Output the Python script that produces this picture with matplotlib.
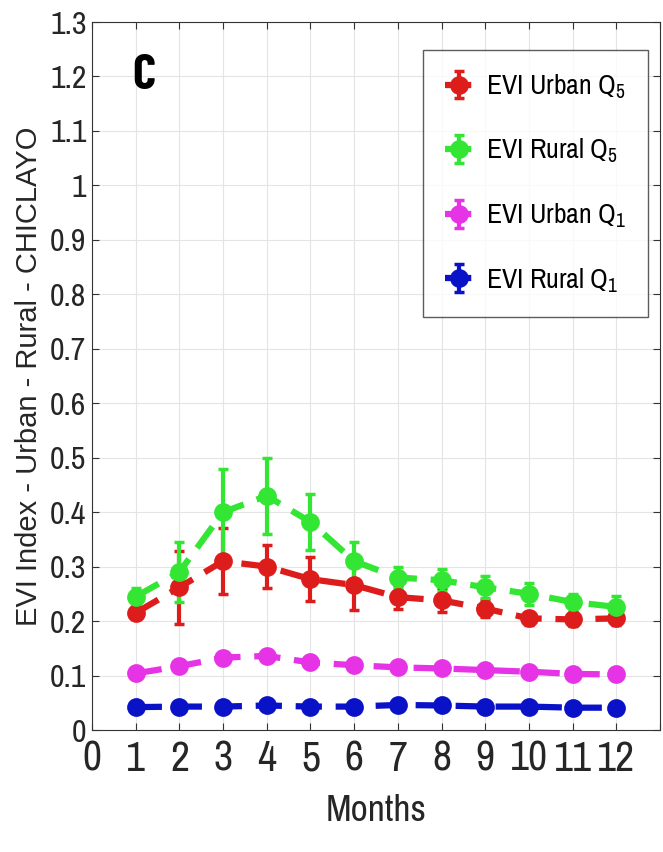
import matplotlib
matplotlib.use("Agg")
import matplotlib.pyplot as plt
import numpy as np

months = np.arange(1, 13)

urban_q5 = [0.215, 0.262, 0.31, 0.30, 0.277, 0.266, 0.244, 0.238, 0.223, 0.205, 0.203, 0.205]
urban_q5_err = [0.012, 0.067, 0.06, 0.04, 0.04, 0.045, 0.022, 0.022, 0.015, 0.012, 0.012, 0.012]
rural_q5 = [0.245, 0.29, 0.40, 0.43, 0.382, 0.31, 0.28, 0.275, 0.262, 0.25, 0.235, 0.226]
rural_q5_err = [0.015, 0.055, 0.08, 0.07, 0.052, 0.035, 0.02, 0.02, 0.02, 0.02, 0.015, 0.02]
urban_q1 = [0.104, 0.117, 0.133, 0.136, 0.124, 0.119, 0.115, 0.113, 0.110, 0.107, 0.103, 0.102]
urban_q1_err = [0.008, 0.008, 0.01, 0.01, 0.008, 0.008, 0.008, 0.008, 0.008, 0.008, 0.008, 0.008]
rural_q1 = [0.042, 0.043, 0.043, 0.045, 0.043, 0.043, 0.046, 0.045, 0.043, 0.043, 0.041, 0.041]
rural_q1_err = [0.005, 0.005, 0.005, 0.005, 0.005, 0.005, 0.005, 0.005, 0.005, 0.005, 0.005, 0.005]

series = [
    (urban_q5, urban_q5_err, '#dd1c1c', r'EVI Urban Q$_5$'),
    (rural_q5, rural_q5_err, '#33e633', r'EVI Rural Q$_5$'),
    (urban_q1, urban_q1_err, '#e633e6', r'EVI Urban Q$_1$'),
    (rural_q1, rural_q1_err, '#0a12c8', r'EVI Rural Q$_1$'),
]

narrow = ['Archivo Narrow', 'DejaVu Sans']
plt.rcParams['font.family'] = narrow
plt.rcParams['mathtext.fontset'] = 'custom'
plt.rcParams['mathtext.rm'] = 'Archivo Narrow'
plt.rcParams['mathtext.it'] = 'Archivo Narrow'

fig = plt.figure(figsize=(6.63, 8.52), dpi=100)
ax = fig.add_axes([92 / 663, 1 - 730 / 852, (660 - 92) / 663, (730 - 22) / 852])

for vals, errs, col, lab in series:
    ax.errorbar(months, vals, yerr=errs, color=col, linestyle=(0, (4.2, 2.2)), linewidth=4.5,
                marker='o', markersize=11, markeredgewidth=2.5, markerfacecolor=col,
                elinewidth=3, capsize=3.5, capthick=3, label=lab)

ax.set_xlim(0, 13)
ax.set_ylim(0, 1.3)
ax.set_xticks(range(0, 14))
ax.set_xticklabels([str(i) for i in range(0, 13)] + [''])
ax.set_yticks(np.round(np.arange(0, 1.31, 0.1), 1))
ax.set_yticklabels(['0'] + ['%g' % v for v in np.round(np.arange(0.1, 1.31, 0.1), 1)])
ax.grid(True, color='#e4e4e4', linewidth=0.8)
ax.set_axisbelow(True)
ax.tick_params(direction='in', top=True, right=True, length=5, color='#333333')
ax.tick_params(axis='x', labelsize=30, pad=7, labelcolor='#262626')
ax.tick_params(axis='y', labelsize=23, pad=4, labelcolor='#262626')
for s in ax.spines.values():
    s.set_color('#333333')

ax.set_xlabel('Months', fontsize=27, labelpad=12, color='#262626')
ax.set_ylabel('EVI Index - Urban - Rural - CHICLAYO', fontsize=21, color='#262626',
              family=['Liberation Sans', 'DejaVu Sans'], labelpad=5)

ax.text(0.07, 0.905, 'C', transform=ax.transAxes, fontsize=36, fontweight='bold',
        family=['Barlow Condensed', 'DejaVu Sans'])

leg = ax.legend(loc='upper right', bbox_to_anchor=(648 / 663, 1 - 50 / 852),
                bbox_transform=fig.transFigure, fontsize=20, frameon=True,
                fancybox=False, edgecolor='#333333', handlelength=1.0,
                labelspacing=1.3, borderpad=0.8, handletextpad=0.45, borderaxespad=0)
leg.get_frame().set_linewidth(1)

fig.savefig('out.png', dpi=100)
